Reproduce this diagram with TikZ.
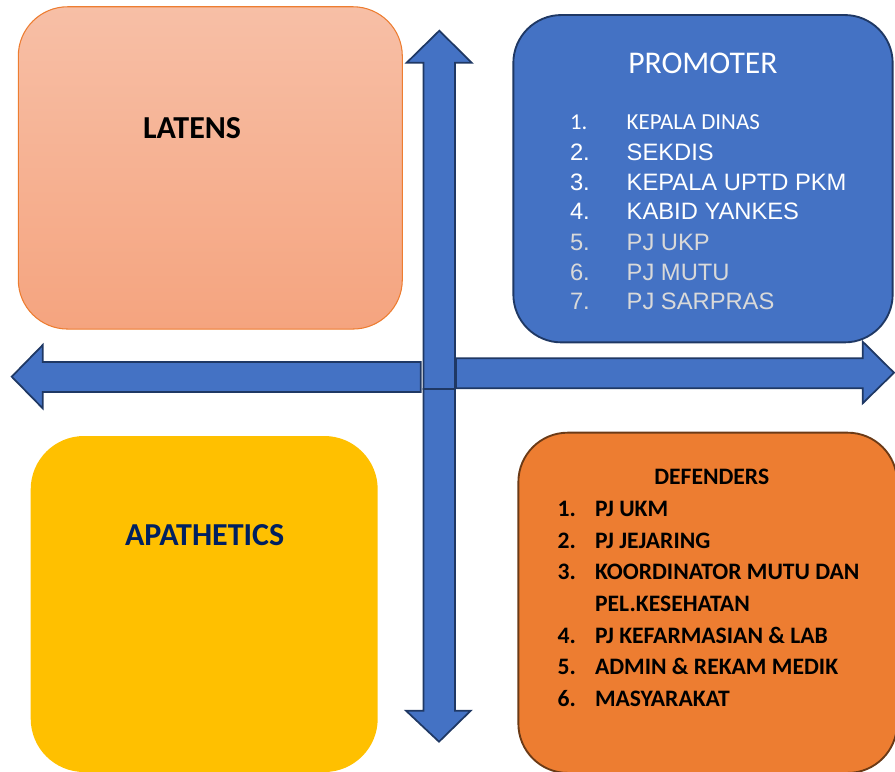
\documentclass[tikz,border=0pt]{standalone}
\usepackage{fontspec}
\setmainfont{Carlito}
\newfontfamily\arialf{Liberation Sans}
\definecolor{latenstop}{HTML}{F7BFA6}
\definecolor{latensbot}{HTML}{F5A47F}
\definecolor{latensline}{HTML}{ED7D31}
\definecolor{promfill}{HTML}{4472C4}
\definecolor{navyline}{HTML}{1F3864}
\definecolor{apafill}{HTML}{FFC000}
\definecolor{apatext}{HTML}{002060}
\definecolor{deffill}{HTML}{ED7D31}
\definecolor{defline}{HTML}{6B3A16}
\definecolor{greytext}{HTML}{D9D9D9}
\tikzset{
  quadbox/.style={rectangle, inner sep=0pt, line width=1.4pt},
  lbl/.style={anchor=base west, inner sep=0pt, outer sep=0pt},
  blockarrow/.style={fill=promfill, draw=navyline, line width=1.3pt, line join=miter},
  promitem/.style={lbl, text=white, font=\arialf\fontsize{17.8}{20}\selectfont},
  promgrey/.style={lbl, text=greytext, font=\arialf\fontsize{17.8}{20}\selectfont},
  defitem/.style={lbl, text=black, font=\bfseries\fontsize{17.7}{20}\selectfont},
}
\begin{document}
\begin{tikzpicture}[x=0.75pt,y=-0.75pt]
\useasboundingbox (0,0) rectangle (895,771);

% boxes
\node (latens) [quadbox, draw=latensline, line width=0.8pt, top color=latenstop, bottom color=latensbot,
  rounded corners=37pt, minimum width=288pt, minimum height=241.7pt] at (210.3,167.9) {};
\node (promoter) [quadbox, draw=navyline, fill=promfill,
  rounded corners=36pt, minimum width=284.5pt, minimum height=245.5pt] at (703,178.7) {};
\node (apathetics) [quadbox, fill=apafill,
  rounded corners=40pt, minimum width=260.25pt, minimum height=252pt] at (204.2,604) {};
\node (defenders) [quadbox, draw=defline, fill=deffill,
  rounded corners=37pt, minimum width=284pt, minimum height=255.2pt] at (707.7,602.8) {};

% block arrows
\draw[blockarrow] (439.3,30.7) -- (471.7,62.7) -- (455,62.7) -- (455,389) -- (423.5,389) -- (423.5,62.7) -- (406.7,62.7) -- cycle;
\draw[blockarrow] (423.5,389) -- (455,389) -- (455,710.7) -- (470.7,710.7) -- (439,741.7) -- (406,710.7) -- (423.5,710.7) -- cycle;
\draw[blockarrow] (420.7,362) -- (42.7,362) -- (42.7,345) -- (11.7,376.7) -- (42.7,408.3) -- (42.7,392) -- (420.7,392) -- cycle;
\draw[blockarrow] (456,358.3) -- (862.7,358.3) -- (862.7,341.7) -- (894,372.7) -- (862.7,403.3) -- (862.7,388.3) -- (456,388.3) -- cycle;

% LATENS
\node (tlatens) [lbl, font=\bfseries\fontsize{24}{28}\selectfont] at (143,138.3) {LATENS};

% APATHETICS
\node (tapa) [lbl, text=apatext, font=\bfseries\fontsize{24}{28}\selectfont] at (125,545.7) {APATHETICS};

% PROMOTER
\node (tprom) [lbl, text=white, font=\fontsize{23.7}{28}\selectfont] at (628.3,73.3) {PROMOTER};
\node (pn1) [lbl, text=white, font=\fontsize{17}{20}\selectfont] at (570,129.3) {1.};
\node (pt1) [lbl, text=white, font=\fontsize{17.2}{20}\selectfont] at (626.7,129.3) {KEPALA DINAS};
\node (pn2) [promitem] at (570,160) {2.};
\node (pt2) [promitem] at (626.7,160) {SEKDIS};
\node (pn3) [promitem] at (570,190) {3.};
\node (pt3) [promitem] at (626.7,190) {KEPALA UPTD PKM};
\node (pn4) [promitem] at (570,219.5) {4.};
\node (pt4) [promitem] at (626.7,219.5) {KABID YANKES};
\node (pn5) [promgrey] at (570,250) {5.};
\node (pt5) [promgrey] at (626.7,250) {PJ UKP};
\node (pn6) [promgrey] at (570,280) {6.};
\node (pt6) [promgrey] at (626.7,280) {PJ MUTU};
\node (pn7) [promgrey] at (570,309.3) {7.};
\node (pt7) [promgrey] at (626.7,309.3) {PJ SARPRAS};

% DEFENDERS
\node (tdef) [defitem] at (654.3,484) {DEFENDERS};
\node (dn1) [defitem] at (557.7,516) {1.};
\node (dt1) [defitem] at (595,516) {PJ UKM};
\node (dn2) [defitem] at (557.7,548) {2.};
\node (dt2) [defitem] at (595,548) {PJ JEJARING};
\node (dn3) [defitem] at (557.7,579.5) {3.};
\node (dt3) [defitem] at (595,579.5) {KOORDINATOR MUTU DAN};
\node (dt3b) [defitem] at (595,611.5) {PEL.KESEHATAN};
\node (dn4) [defitem] at (557.7,643) {4.};
\node (dt4) [defitem] at (595,643) {PJ KEFARMASIAN \& LAB};
\node (dn5) [defitem] at (557.7,674.5) {5.};
\node (dt5) [defitem] at (595,674.5) {ADMIN \& REKAM MEDIK};
\node (dn6) [defitem] at (557.7,706) {6.};
\node (dt6) [defitem] at (595,706) {MASYARAKAT};
\end{tikzpicture}
\end{document}
